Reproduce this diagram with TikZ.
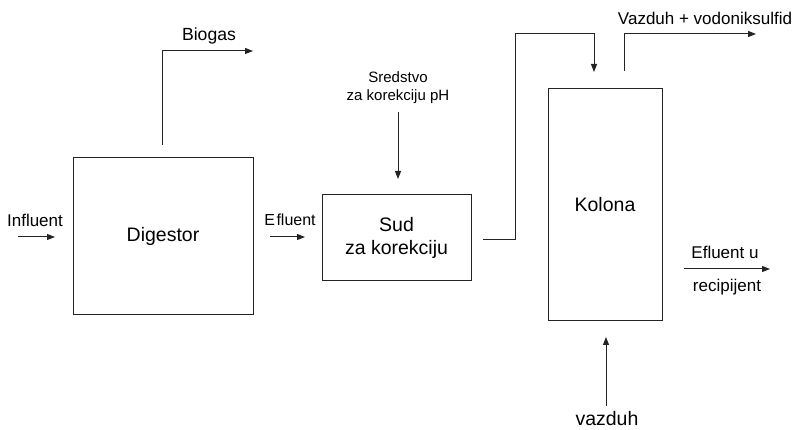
\documentclass[tikz,border=0pt]{standalone}
\usepackage{fontspec}
\setmainfont{Liberation Sans}
\usetikzlibrary{arrows.meta,positioning}
\definecolor{linija}{RGB}{35,35,35}
\tikzset{
  blok/.style={draw=linija, line width=1pt, inner sep=0pt, align=center,
    font=\fontsize{19.5}{23}\selectfont},
  lab/.style={inner sep=0pt, align=center, font=\fontsize{17}{20}\selectfont},
  tok/.style={-{Triangle[length=8pt,width=6pt]}, draw=linija, line width=1pt},
}

\begin{document}
\begin{tikzpicture}[x=1pt,y=-1pt]
\useasboundingbox (0,0) rectangle (793,430);
% blokovi
\node[blok, minimum width=180pt, minimum height=157pt] (dig) at (163,236.5) {Digestor};
\node[blok, minimum width=149pt, minimum height=86pt] (sud) at (396.5,238) {Sud\\za korekciju};
\node[blok, minimum width=114pt, minimum height=232pt] (kol) at (605,205) {Kolona};
% ulaz u digestor
\coordinate (inS) at (18,237);
\coordinate (inE) at (55,237);
\node[lab] (influent) at (35,220) {Influent};
\draw[tok] (inS) -- (inE);
% biogas
\coordinate (bioS) at (162,145);
\coordinate (bioE) at (253,51);
\node[lab, font=\fontsize{17.6}{20}\selectfont] (biogas) at (209,36) {Biogas};
\draw[tok] (bioS) |- (bioE);
% efluent iz digestora
\coordinate (efS) at (270,237);
\coordinate (efE) at (305,237);
\node[lab, font=\fontsize{16}{20}\selectfont] (efluent) at (290,220) {E\kern1.5pt fluent};
\draw[tok] (efS) -- (efE);
% sredstvo za korekciju pH
\node[lab, font=\fontsize{15}{18}\selectfont] (sred) at (398,88) {Sredstvo\\za korekciju pH};
\coordinate (sredS) at (398,112);
\coordinate (sredE) at (398,179);
\draw[tok] (sredS) -- (sredE);
% sud -> kolona
\coordinate (sudS) at (483,240);
\coordinate (kolU) at (594,72);
\draw[tok] (sudS) -- (515,240) |- (594,34) -- (kolU);
% izlaz gasa
\coordinate (gasS) at (624,71);
\coordinate (gasE) at (756,34);
\node[lab] (gas) at (705,18) {Vazduh + vodoniksulfid};
\draw[tok] (gasS) |- (gasE);
% efluent u recipijent
\coordinate (recS) at (684,269);
\coordinate (recE) at (770,269);
\node[lab] (efu) at (725,252) {Efluent u};
\node[lab] (recip) at (727,287) {recipijent};
\draw[tok] (recS) -- (recE);
% vazduh
\coordinate (vazS) at (606,406);
\coordinate (vazE) at (606,337);
\node[lab, font=\fontsize{19.5}{23}\selectfont] (vazduh) at (607,419) {vazduh};
\draw[tok] (vazS) -- (vazE);
\end{tikzpicture}
\end{document}
